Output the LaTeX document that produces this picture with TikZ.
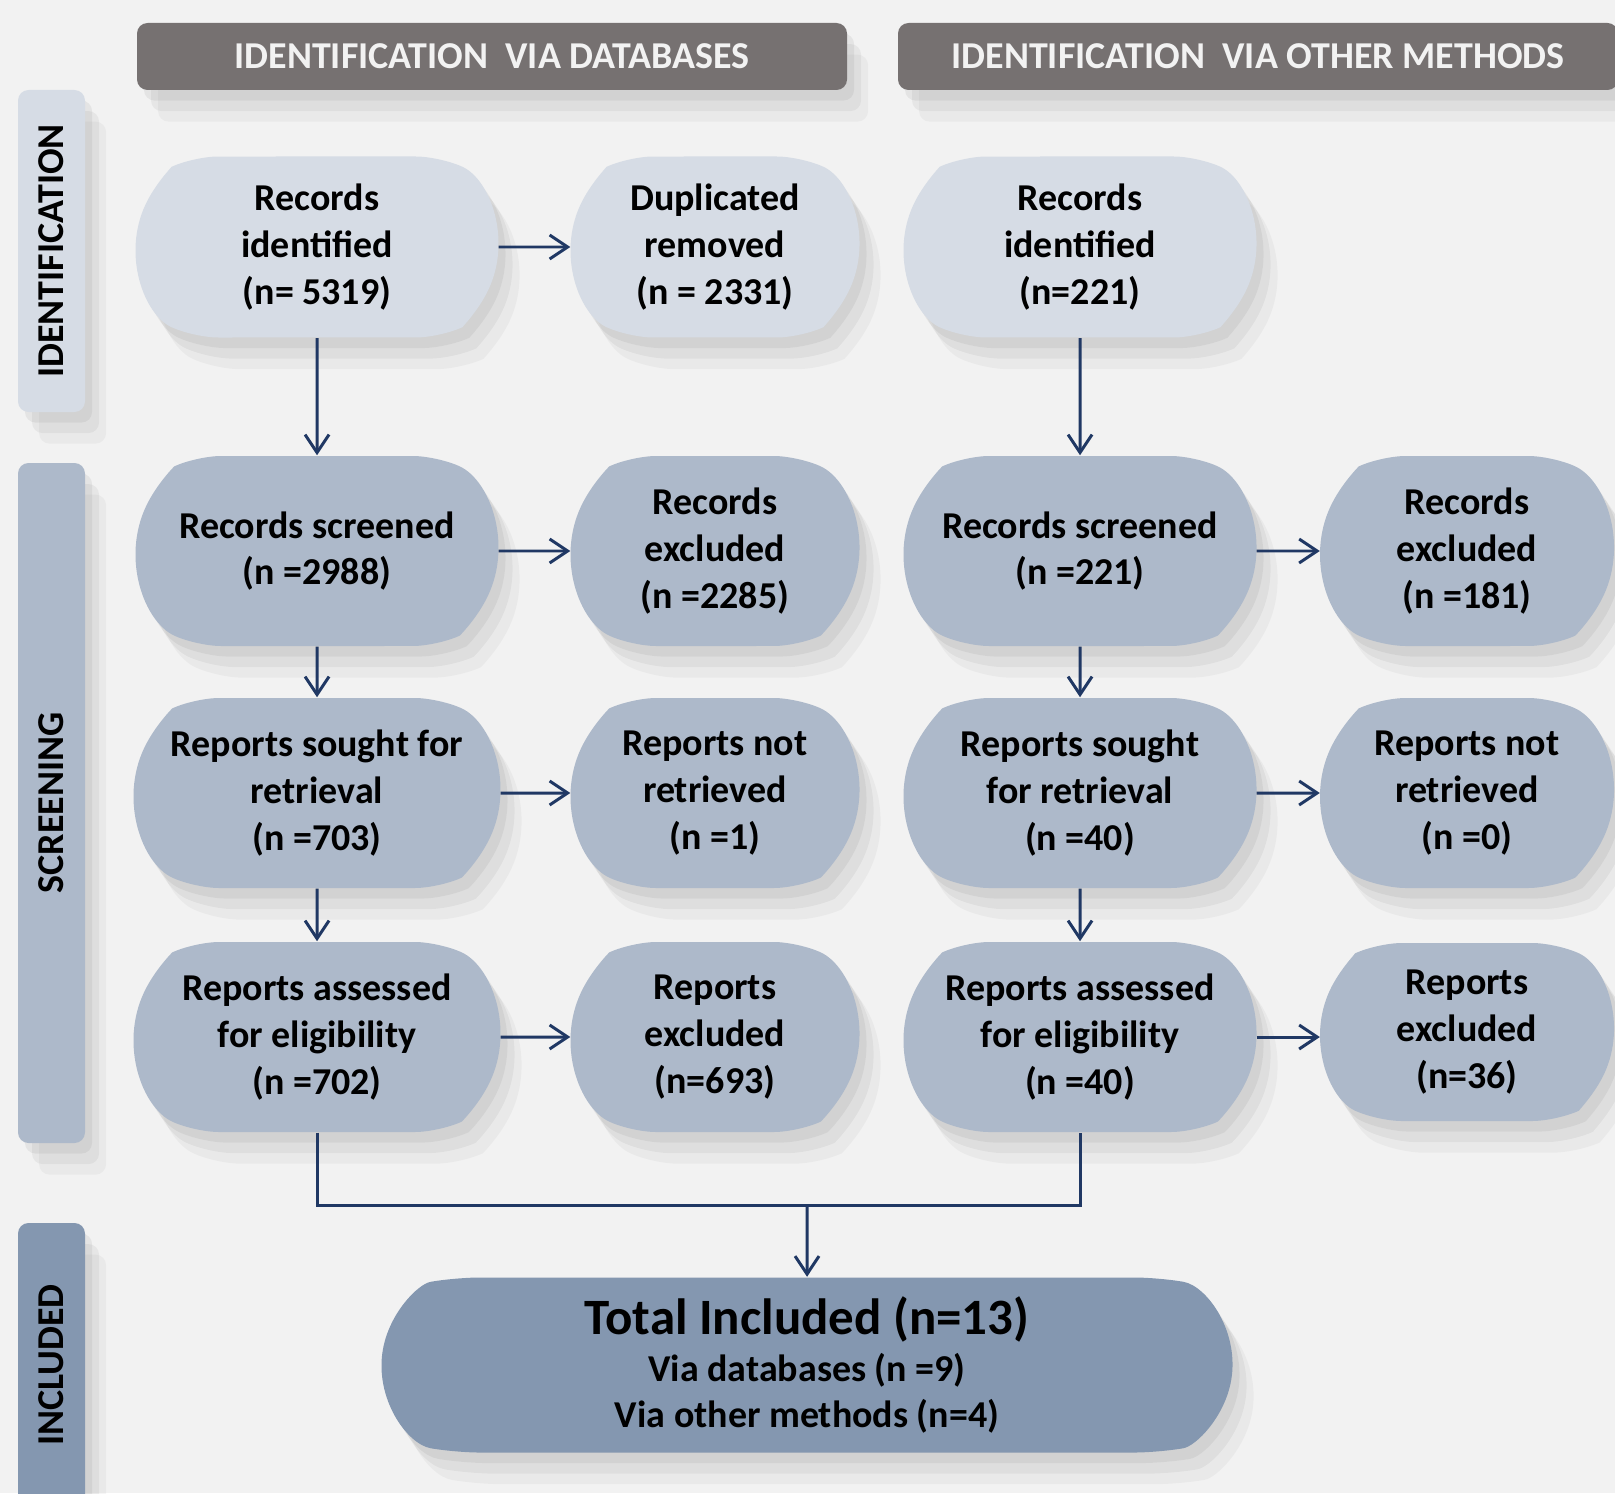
\documentclass[tikz,border=0pt]{standalone}
\usepackage{fontspec}
\setmainfont{Carlito}
\usepackage{tikz}
\usetikzlibrary{positioning,shapes.misc,shadows,arrows.meta}

\definecolor{pagebg}{HTML}{F2F2F2}
\definecolor{boxlight}{HTML}{D6DCE5}
\definecolor{boxmid}{HTML}{ADB9CA}
\definecolor{boxdark}{HTML}{8497B0}
\definecolor{headgray}{HTML}{767171}
\definecolor{linknavy}{HTML}{203864}

\newcommand{\boxfont}{\fontsize{10.8}{13.3}\selectfont\bfseries}

\tikzset{
	softshadow/.style={drop shadow={shadow xshift=2pt, shadow yshift=-3pt, opacity=0.12},
		drop shadow={shadow xshift=4pt, shadow yshift=-6pt, opacity=0.10},
		drop shadow={shadow xshift=6pt, shadow yshift=-9pt, opacity=0.07}},
	flowbox/.style={rounded rectangle, rounded rectangle arc length=130, rounded corners=7pt, fill=boxmid, align=center, minimum height=1.9cm, inner sep=2pt, font=\boxfont, softshadow},
	firstbox/.style={flowbox, fill=boxlight, minimum height=1.81cm},
	headbar/.style={fill=headgray, rounded corners=3pt, minimum height=0.67cm, text=pagebg, font=\boxfont, softshadow},
	sidebar/.style={rounded corners=3pt, minimum width=0.67cm, inner sep=0pt, font=\boxfont, softshadow},
	link/.style={draw=linknavy, line width=0.85pt, sharp corners, -{Straight Barb[length=1.8mm,width=2.4mm]}},
	joint/.style={draw=linknavy, line width=0.85pt}
}

\begin{document}
\begin{tikzpicture}
		\useasboundingbox (0,0) rectangle (16.15,-14.93);
		\fill[pagebg] (0,0) rectangle (16.15,-14.93);
		
		\node[headbar, minimum width=7.10cm] (headDb) at (4.92,-0.565) {IDENTIFICATION\ \ VIA DATABASES};
		\node[headbar, minimum width=7.20cm] (headOth) at (12.58,-0.565) {IDENTIFICATION\ \ VIA OTHER METHODS};
		
		\node[sidebar, fill=boxlight, minimum height=3.22cm] (sideId) at (0.515,-2.51) {\rotatebox{90}{IDENTIFICATION}};
		\node[sidebar, fill=boxmid, minimum height=6.80cm] (sideScr) at (0.515,-8.03) {\rotatebox{90}{SCREENING}};
		\node[sidebar, fill=boxdark, minimum height=2.84cm] (sideInc) at (0.515,-13.65) {\rotatebox{90}{INCLUDED}};
		
		% databases
		\node[firstbox, minimum width=3.76cm] (idDb) at (3.17,-2.47) {Records\\identified\\(n= 5319)};
		\node[firstbox, minimum width=3.02cm] (dupDb) at (7.15,-2.47) {Duplicated\\removed\\(n = 2331)};
		\node[flowbox, minimum width=3.76cm] (scrDb) at (3.17,-5.51) {Records screened\\(n =2988)};
		\node[flowbox, minimum width=3.02cm] (exclDb) at (7.15,-5.51) {Records\\excluded\\(n =2285)};
		\node[flowbox, minimum width=3.80cm] (soughtDb) at (3.17,-7.93) {Reports sought for\\retrieval\\(n =703)};
		\node[flowbox, minimum width=3.02cm] (notretDb) at (7.15,-7.93) {Reports not\\retrieved\\(n =1)};
		\node[flowbox, minimum width=3.80cm] (assessDb) at (3.17,-10.37) {Reports assessed\\for eligibility\\(n =702)};
		\node[flowbox, minimum width=3.02cm] (reexDb) at (7.15,-10.37) {Reports\\excluded\\(n=693)};
		
		% other methods
		\node[firstbox, minimum width=3.66cm] (idOth) at (10.80,-2.47) {Records\\identified\\(n=221)};
		\node[flowbox, minimum width=3.66cm] (scrOth) at (10.80,-5.51) {Records screened\\(n =221)};
		\node[flowbox, minimum width=3.07cm] (exclOth) at (14.67,-5.51) {Records\\excluded\\(n =181)};
		\node[flowbox, minimum width=3.66cm] (soughtOth) at (10.80,-7.93) {Reports sought\\for retrieval\\(n =40)};
		\node[flowbox, minimum width=3.07cm] (notretOth) at (14.67,-7.93) {Reports not\\retrieved\\(n =0)};
		\node[flowbox, minimum width=3.66cm] (assessOth) at (10.80,-10.37) {Reports assessed\\for eligibility\\(n =40)};
		\node[flowbox, minimum width=3.07cm, minimum height=1.78cm] (reexOth) at (14.67,-10.32) {Reports\\excluded\\(n=36)};
		
		\node[flowbox, fill=boxdark, rounded rectangle arc length=160, minimum width=8.65cm, minimum height=1.75cm] (total) at (8.07,-13.65) {{\fontsize{14.5}{17}\selectfont Total Included (n=13)}\\Via databases (n =9)\\Via other methods (n=4)};
		
		\draw[link] (idDb) -- (dupDb);
		\draw[link] (scrDb) -- (exclDb);
		\draw[link] (soughtDb) -- (notretDb);
		\draw[link] (assessDb) -- (reexDb);
		\draw[link] (scrOth) -- (exclOth);
		\draw[link] (soughtOth) -- (notretOth);
		\draw[link] (assessOth.east) -- (reexOth.west |- assessOth.east);
		
		\draw[link] (idDb) -- (scrDb);
		\draw[link] (scrDb) -- (soughtDb);
		\draw[link] (soughtDb) -- (assessDb);
		\draw[link] (idOth) -- (scrOth);
		\draw[link] (scrOth) -- (soughtOth);
		\draw[link] (soughtOth) -- (assessOth);
		
		\coordinate (merge) at (8.07,-12.05);
		\draw[joint] (assessDb.south) |- (merge) -| (assessOth.south);
		\draw[link] (merge) -- (total);
	\end{tikzpicture}
\end{document}
